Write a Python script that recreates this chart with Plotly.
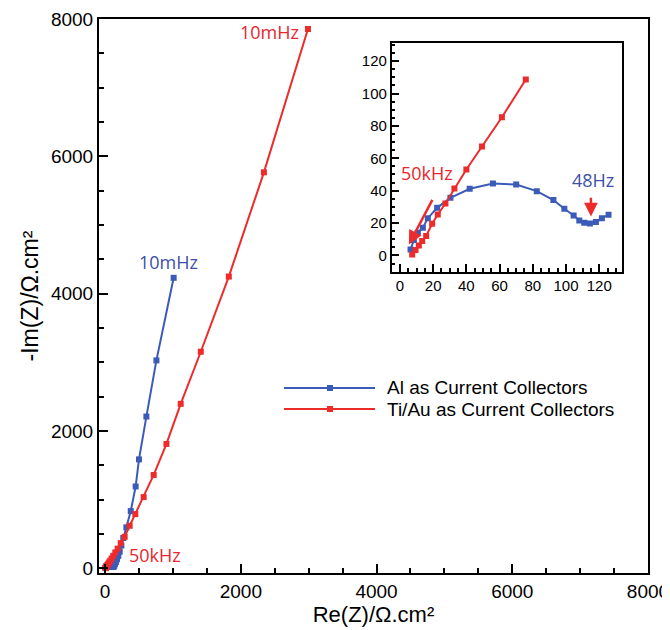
import plotly.graph_objects as go

# Al as current collectors (blue)
al_re = [6.4, 8.4, 10.8, 13.8, 16.8, 22.4, 30.4, 42.0, 56.0, 70.0, 82.4, 92.4, 99.0, 104.6,
         108.0, 111.0, 114.4, 118.0, 121.6, 125.6,
         135, 145, 160, 175, 195, 215, 240, 268, 313, 378, 450, 499, 608, 756, 1010]
al_im = [3.7, 9.5, 14.0, 17.1, 23.0, 29.4, 35.6, 41.2, 44.4, 43.8, 39.7, 34.2, 28.8, 24.7,
         21.6, 20.2, 19.75, 20.6, 23.0, 25.1,
         40, 60, 90, 130, 180, 240, 330, 440, 595, 832, 1190, 1585, 2209, 3027, 4230]

# Ti/Au as current collectors (red)
ti_re = [7.4, 9.4, 11.4, 13.4, 15.8, 19.4, 22.8, 27.4, 32.8, 40.0, 49.4, 61.4, 75.8,
         95, 120, 150, 185, 230, 288, 362, 445, 568, 716, 904, 1114, 1410, 1823, 2340, 2989]
ti_im = [0.6, 3.3, 6.2, 8.9, 12.0, 19.6, 25.3, 32.1, 41.4, 53.1, 67.3, 85.4, 108.7,
         140, 180, 230, 285, 365, 457, 618, 788, 1036, 1358, 1810, 2394, 3153, 4248, 5766, 7854]

# number of high-frequency points shown in the inset
al_inset_n = 20
ti_inset_n = 13

series_names = ["Al as Current Collectors", "Ti/Au as Current Collectors"]
main_ticks = [0, 2000, 4000, 6000, 8000]
inset_ticks = [0, 20, 40, 60, 80, 100, 120]

BLUE = "#3b5bb8"
RED = "#ee2b2b"
BLUE_TXT = "#3d4fa8"
RED_TXT = "#e8262e"

fig = go.Figure()
fig.add_trace(go.Scatter(x=al_re, y=al_im, mode="lines+markers",
                         line=dict(color=BLUE, width=2),
                         marker=dict(symbol="square", size=6, color=BLUE),
                         name=series_names[0], showlegend=False))
fig.add_trace(go.Scatter(x=ti_re, y=ti_im, mode="lines+markers",
                         line=dict(color=RED, width=2),
                         marker=dict(symbol="square", size=6, color=RED),
                         name=series_names[1], showlegend=False))
fig.add_trace(go.Scatter(x=al_re[:al_inset_n], y=al_im[:al_inset_n], mode="lines+markers",
                         xaxis="x2", yaxis="y2",
                         line=dict(color=BLUE, width=2),
                         marker=dict(symbol="square", size=6, color=BLUE),
                         name=series_names[0], showlegend=False))
fig.add_trace(go.Scatter(x=ti_re[:ti_inset_n], y=ti_im[:ti_inset_n], mode="lines+markers",
                         xaxis="x2", yaxis="y2",
                         line=dict(color=RED, width=2),
                         marker=dict(symbol="square", size=6, color=RED),
                         name=series_names[1], showlegend=False))

tickfont = dict(family="Liberation Sans, Arial, sans-serif", size=19, color="black")
insetfont = dict(family="Liberation Sans, Arial, sans-serif", size=15, color="black")
lblfont = "Open Sans, Noto Sans, sans-serif"

# the page body adds an 8px offset; margins are shifted to compensate
fig.update_layout(
    width=670, height=630,
    margin=dict(l=91, r=30, t=11, b=65, autoexpand=False),
    paper_bgcolor="white", plot_bgcolor="white",
    xaxis=dict(range=[-90, 8000], tickvals=main_ticks, ticks="inside", ticklen=9,
               tickwidth=1.5, tickcolor="black", automargin=False,
               minor=dict(dtick=500, tick0=0, ticks="inside", ticklen=5, tickcolor="black"),
               showline=True, linewidth=2, linecolor="black", mirror=True,
               showgrid=False, zeroline=False, tickfont=tickfont,
               title=dict(text="Re(Z)/Ω.cm²", standoff=0,
                          font=dict(family="Liberation Sans, Arial, sans-serif", size=22, color="black"))),
    yaxis=dict(range=[-70, 8000], tickvals=main_ticks, ticks="inside", ticklen=9,
               tickwidth=1.5, tickcolor="black", automargin=False,
               minor=dict(dtick=500, tick0=0, ticks="inside", ticklen=5, tickcolor="black"),
               showline=True, linewidth=2, linecolor="black", mirror=True,
               showgrid=False, zeroline=False, tickfont=tickfont,
               title=dict(text="-Im(Z)/Ω.cm²", standoff=6,
                          font=dict(family="Liberation Sans, Arial, sans-serif", size=23, color="black"))),
    xaxis2=dict(domain=[0.533, 0.952], anchor="y2", range=[-5, 133.5], tickvals=inset_ticks,
                ticks="inside", ticklen=8, tickwidth=1.5, tickcolor="black", automargin=False,
                minor=dict(dtick=5, tick0=0, ticks="inside", ticklen=4, tickcolor="black"),
                showline=True, linewidth=1.5, linecolor="black", mirror=True,
                showgrid=False, zeroline=False, tickfont=insetfont),
    yaxis2=dict(domain=[0.544, 0.956], anchor="x2", range=[-10, 131], tickvals=inset_ticks,
                ticks="inside", ticklen=8, tickwidth=1.5, tickcolor="black", automargin=False,
                minor=dict(dtick=5, tick0=0, ticks="inside", ticklen=4, tickcolor="black"),
                showline=True, linewidth=1.5, linecolor="black", mirror=True,
                showgrid=False, zeroline=False, tickfont=insetfont),
)

# frequency labels, main plot
fig.add_annotation(x=2880, y=7810, xref="x", yref="y", text="10mHz", showarrow=False,
                   xanchor="right", font=dict(family=lblfont, size=18, color=RED_TXT))
fig.add_annotation(x=937, y=4467, xref="x", yref="y", text="10mHz", showarrow=False,
                   font=dict(family=lblfont, size=18, color=BLUE_TXT))
fig.add_annotation(x=328, y=190, xref="x", yref="y", text="50kHz", showarrow=False,
                   xanchor="left", font=dict(family=lblfont, size=18, color=RED_TXT))

# inset labels and arrows
fig.add_annotation(x=-0.8, y=51, xref="x2", yref="y2", text="50kHz", showarrow=False,
                   xanchor="left", font=dict(family=lblfont, size=18, color=RED_TXT))
fig.add_annotation(x=116.2, y=46.9, xref="x2", yref="y2", text="48Hz", showarrow=False,
                   font=dict(family=lblfont, size=18, color=BLUE_TXT))
fig.add_annotation(x=5.4, y=6.8, ax=20, ay=35.2, xref="x2", yref="y2", axref="x2", ayref="y2",
                   text="", showarrow=True, arrowhead=2, arrowsize=1.1, arrowwidth=2.5, arrowcolor=RED)
fig.add_annotation(x=115, y=24, ax=115, ay=36.6, xref="x2", yref="y2", axref="x2", ayref="y2",
                   text="", showarrow=True, arrowhead=2, arrowsize=1.1, arrowwidth=2.5, arrowcolor=RED)

# manual legend (positions in screen pixels, mapped to paper fractions)
W, H, L, B = 549.0, 554.0, 99.0, 573.0
def px(xp):
    return (xp - L) / W
def py(yp):
    return (B - yp) / H
for name, col, ypix in [(series_names[0], BLUE, 388), (series_names[1], RED, 409)]:
    fig.add_shape(type="line", xref="paper", yref="paper", x0=px(284), x1=px(375),
                  y0=py(ypix), y1=py(ypix), line=dict(color=col, width=2))
    fig.add_shape(type="rect", xref="paper", yref="paper", x0=px(327), x1=px(333),
                  y0=py(ypix + 3), y1=py(ypix - 3), line=dict(width=0), fillcolor=col)
    fig.add_annotation(x=px(385), y=py(ypix), xref="paper", yref="paper", text=name,
                       showarrow=False, xanchor="left", yanchor="middle",
                       font=dict(family="Liberation Sans, Arial, sans-serif", size=19, color="black"))

fig.write_html("out.html")
